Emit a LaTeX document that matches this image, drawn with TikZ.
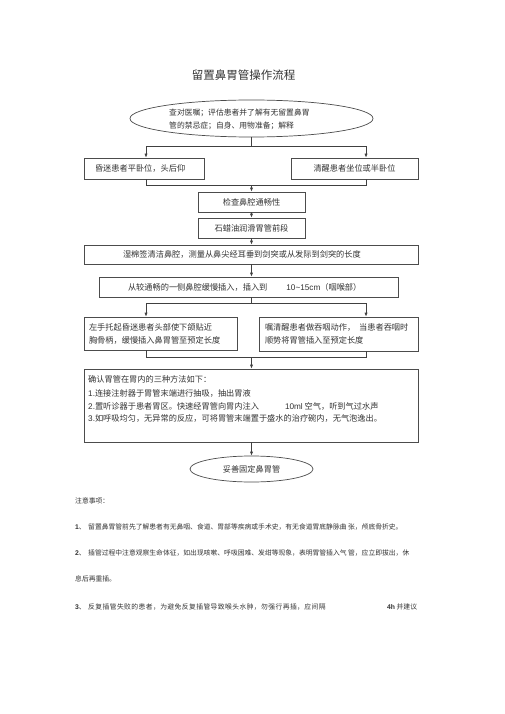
\documentclass[tikz,border=0pt]{standalone}
\usepackage{fontspec}
\setmainfont{Noto Sans CJK SC}
\newfontfamily\arialf{Liberation Sans}
\usetikzlibrary{arrows.meta,shapes.geometric}
\newcommand\bxfont{\fontsize{8.2}{13}\selectfont}
\newcommand\ntfont{\fontsize{6.8}{10}\selectfont}
\begin{document}
\begin{tikzpicture}[x=1pt,y=-1pt]
\tikzset{
  box/.style={draw=black!70, line width=0.7pt, rectangle, inner sep=0pt, font=\bxfont, text=black!80},
  oval/.style={ellipse, draw=black!70, line width=0.7pt, inner sep=0pt, font=\bxfont, text=black!80},
  ln/.style={draw=black!75, line width=0.7pt},
  arr/.style={ln, -{Latex[length=4pt,width=3.2pt]}},
  txt/.style={inner sep=0pt, text=black!80},
  nt/.style={txt, anchor=west, font=\ntfont}
}
\useasboundingbox[fill=white] (0,0) rectangle (505,714);

\node[txt, font=\fontsize{11.5}{14}\selectfont] (title) at (243.5,75) {留置鼻胃管操作流程};

\node[oval, minimum width=243pt, minimum height=37pt] (e1) at (251.5,118.5) {};
\node[txt, anchor=west, align=left, font=\fontsize{7.8}{13}\selectfont] (e1t) at (169,119.5)
  {查对医嘱；评估患者并了解有无留置鼻胃\\管的禁忌症；自身、用物准备；解释};

\node[box, minimum width=120pt, minimum height=21pt, text width=98pt, inner xsep=11pt, align=left] (b1) at (144,168.5) {昏迷患者平卧位，头后仰};
\node[box, minimum width=127pt, minimum height=21pt] (b2) at (354.5,168.5) {清醒患者坐位或半卧位};
\node[box, minimum width=107pt, minimum height=20pt] (b3) at (251.5,202) {检查鼻腔通畅性};
\node[box, minimum width=107pt, minimum height=20pt] (b4) at (251.5,228) {石蜡油润滑胃管前段};
\node[box, minimum width=334pt, minimum height=19pt, text width=256pt, inner xsep=39pt, align=left] (b5) at (251,254.5)
  {湿棉签清洁鼻腔，测量从鼻尖经耳垂到剑突或从发际到剑突的长度};
\node[box, minimum width=299pt, minimum height=20pt, text width=241pt, inner xsep=29pt, align=left] (b6) at (248.5,287)
  {从较通畅的一侧鼻腔缓慢插入，插入到\hspace*{19pt}{\arialf 10\textasciitilde 15cm}（咽喉部）};
\node[box, minimum width=153pt, minimum height=33pt, text width=143pt, inner xsep=5pt, align=left] (b7) at (160.5,333.5)
  {左手托起昏迷患者头部使下颌贴近\\胸骨柄，缓慢插入鼻胃管至预定长度};
\node[box, minimum width=159pt, minimum height=34pt, text width=147pt, inner xsep=6pt, align=left] (b8) at (338.5,334)
  {嘱清醒患者做吞咽动作，\hspace*{4pt}当患者吞咽时\\顺势将胃管插入至预定长度};
\node[box, minimum width=334pt, minimum height=73pt] (b9) at (251,405.5) {};
\node[txt, anchor=north west, align=left, font=\fontsize{8.2}{12.3}\selectfont] (b9t) at (88,375)
  {确认胃管在胃内的三种方法如下：\\[2.5pt]
   {\arialf 1.}连接注射器于胃管末端进行抽吸，抽出胃液\\
   {\arialf 2.}置听诊器于患者胃区。快速经胃管向胃内注入\hspace*{26pt}{\arialf 10ml} 空气，听到气过水声\\
   {\arialf 3.}如呼吸均匀，无异常的反应，可将胃管末端置于盛水的治疗碗内，无气泡逸出。};
\node[oval, minimum width=123pt, minimum height=26pt] (e2) at (251.5,469) {妥善固定鼻胃管};

% connectors
\coordinate (s1) at (251.5,146);
\coordinate (s1l) at (146,146);
\coordinate (s1r) at (366,146);
\draw[ln] (e1.south) -- (s1);
\draw[arr] (s1) -- (s1l) -- (s1l |- b1.north);
\draw[arr] (s1) -- (s1r) -- (s1r |- b2.north);

\coordinate (m1) at (251.5,185);
\coordinate (m1l) at (146,185);
\coordinate (m1r) at (366,185);
\draw[ln] (m1l |- b1.south) -- (m1l) -- (m1r) -- (m1r |- b2.south);
\draw[arr] (m1) -- (b3.north);
\draw[arr] (b3.south) -- (b4.north);
\draw[arr] (b4.south) -- (b4.south |- b5.north);
\draw[arr] (m1 |- b5.south) -- (m1 |- b6.north);

\coordinate (s2) at (251.5,303);
\coordinate (s2l) at (146,303);
\coordinate (s2r) at (366,303);
\draw[ln] (m1 |- b6.south) -- (s2);
\draw[arr] (s2) -- (s2l) -- (s2l |- b7.north);
\draw[arr] (s2) -- (s2r) -- (s2r |- b8.north);

\coordinate (m2) at (251.5,357);
\coordinate (m2l) at (146,357);
\coordinate (m2r) at (366,357);
\draw[ln] (m2l |- b7.south) -- (m2l) -- (m2r) -- (m2r |- b8.south);
\draw[arr] (m2) -- (m2 |- b9.north);
\draw[arr] (m2 |- b9.south) -- (e2.north);

% notes
\node[nt] (n0) at (75,501) {注意事项：};
\node[nt] (n1a) at (75,527) {{\arialf\bfseries 1}、};
\node[nt] (n1) at (88,527) {留置鼻胃管前先了解患者有无鼻咽、食道、胃部等疾病或手术史，有无食道胃底静脉曲 张，颅底骨折史。};
\node[nt] (n2a) at (75,553) {{\arialf\bfseries 2}、};
\node[nt] (n2) at (88,553) {插管过程中注意观察生命体征，如出现咳嗽、呼吸困难、发绀等现象，表明胃管插入气 管，应立即拔出，休};
\node[nt] (n2b) at (75,579) {息后再重插。};
\node[nt] (n3a) at (75,607) {{\arialf\bfseries 3}、};
\node[nt] (n3) at (88,607) {\addfontfeature{LetterSpace=6}反复插管失败的患者，为避免反复插管导致喉头水肿，勿强行再插，应间隔};
\node[nt] (n4) at (387,607) {{\arialf\bfseries 4h} 并建议};
\end{tikzpicture}
\end{document}
